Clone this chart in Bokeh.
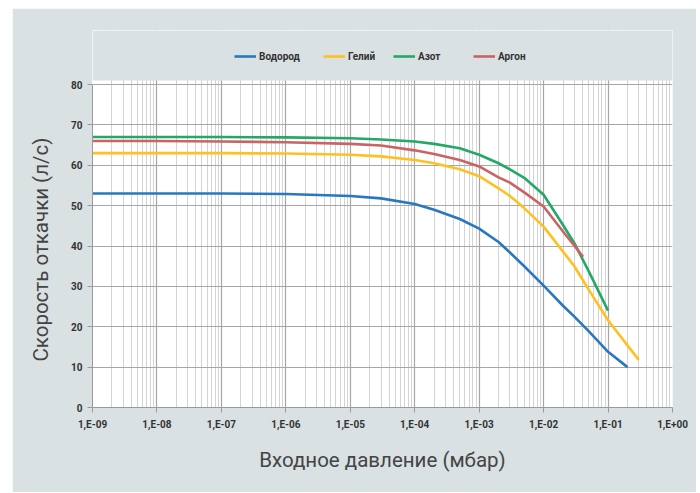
from bokeh.plotting import figure
from bokeh.models import (Range1d, FixedTicker, CustomJSTickFormatter, Legend, LegendItem,
                          BoxAnnotation, Title)
from bokeh.embed import file_html
from bokeh.resources import INLINE

# ---- data (pressure in mbar, pumping speed in l/s) ----
h2_p = [1e-9, 1e-8, 1e-7, 1e-6, 1e-5, 3e-5, 1e-4, 2e-4, 5e-4, 1e-3, 2e-3, 3e-3, 5e-3, 1e-2, 2e-2, 3e-2, 5e-2, 1e-1, 2e-1]
h2_v = [53.0, 53.0, 53.0, 52.9, 52.4, 51.8, 50.4, 49.0, 46.7, 44.3, 41.0, 38.4, 35.0, 30.2, 25.2, 22.5, 18.9, 13.8, 10.0]

he_p = [1e-9, 1e-8, 1e-7, 1e-6, 1e-5, 3e-5, 1e-4, 2e-4, 5e-4, 1e-3, 2e-3, 3e-3, 5e-3, 1e-2, 2e-2, 3e-2, 5e-2, 1e-1, 2e-1, 3e-1]
he_v = [63.0, 63.0, 63.0, 62.9, 62.6, 62.2, 61.3, 60.5, 59.0, 57.3, 54.3, 52.4, 49.4, 44.8, 38.6, 35.0, 29.2, 21.6, 15.4, 11.8]

n2_p = [1e-9, 1e-8, 1e-7, 1e-6, 1e-5, 3e-5, 1e-4, 2e-4, 5e-4, 1e-3, 2e-3, 3e-3, 5e-3, 1e-2, 2e-2, 3e-2, 5e-2, 1e-1]
n2_v = [67.0, 67.0, 67.0, 66.9, 66.7, 66.4, 65.9, 65.3, 64.2, 62.6, 60.5, 59.0, 56.9, 52.7, 45.2, 40.7, 33.8, 24.0]

ar_p = [1e-9, 1e-8, 1e-7, 1e-6, 1e-5, 3e-5, 1e-4, 2e-4, 5e-4, 1e-3, 2e-3, 3e-3, 5e-3, 1e-2, 2e-2, 3e-2, 4.1e-2]
ar_v = [66.0, 66.0, 65.9, 65.7, 65.3, 64.9, 63.7, 62.8, 61.3, 59.7, 57.0, 55.7, 53.3, 49.8, 43.6, 40.1, 37.3]

series_names = ["Водород", "Гелий", "Азот", "Аргон"]
series_colors = ["#2878c0", "#ffc020", "#24a865", "#c86464"]

y_ticks = [0, 10, 20, 30, 40, 50, 60, 70, 80]
x_decades = [1e-9, 1e-8, 1e-7, 1e-6, 1e-5, 1e-4, 1e-3, 1e-2, 1e-1, 1e0]

x_title = "Входное давление (мбар)"
y_title = "Скорость откачки (л/с)"

BG = "#d9e1e3"
FONT_NARROW = "'Liberation Sans Narrow', 'Roboto', sans-serif"
LABEL_SIZE = "20.5px"

# plot area: white part 327 px tall for 0..81; frame extended upward to host the legend
WHITE_TOP = 81
FRAME_H = 377
Y_END = WHITE_TOP * FRAME_H / 327.0
X_START, X_END = x_decades[0], x_decades[-1]

p = figure(x_axis_type="log", output_backend="svg", toolbar_location=None,
           frame_width=580, frame_height=FRAME_H,
           x_range=Range1d(X_START, X_END), y_range=Range1d(0, Y_END),
           min_border_left=79, min_border_right=24, min_border_top=22, min_border_bottom=85,
           background_fill_color="white", border_fill_color=BG,
           outline_line_color=None)
p.margin = (8, 0, 0, 12)

minor = [m * d for d in x_decades[:-1] for m in range(2, 10)]
p.xaxis.ticker = FixedTicker(ticks=x_decades, minor_ticks=minor)
p.yaxis.ticker = FixedTicker(ticks=y_ticks)
p.yaxis.bounds = (0, 80)
p.xaxis.formatter = CustomJSTickFormatter(code="""
const e = Math.round(Math.log10(tick));
const s = (e < 0 ? '-' : '+') + String(Math.abs(e)).padStart(2, '0');
return '1,E' + s;
""")

for ax in (p.xaxis[0], p.yaxis[0]):
    ax.axis_line_color = "#9a9a9a"
    ax.major_tick_line_color = "#9a9a9a"
    ax.minor_tick_line_color = None
    ax.major_tick_in = 0
    ax.major_tick_out = 5
    ax.major_label_text_font = FONT_NARROW
    ax.major_label_text_font_style = "bold"
    ax.major_label_text_font_size = "10px"
    ax.major_label_text_color = "#333333"
    ax.axis_label_text_font = "Roboto"
    ax.axis_label_text_font_style = "normal"
    ax.axis_label_text_font_size = LABEL_SIZE
    ax.axis_label_text_color = "#444444"

p.xaxis.major_label_standoff = 6
p.yaxis.major_label_standoff = 5
p.xaxis.axis_label = x_title
p.xaxis.axis_label_standoff = 15

# y title as a side title so it can be centred on the white plotting area
p.add_layout(Title(text=y_title, align="left", offset=46, vertical_align="middle", standoff=30,
                   text_font="Roboto", text_font_style="normal", text_font_size=LABEL_SIZE,
                   text_color="#444444"), "left")

p.xgrid.grid_line_color = "#a6a6a6"
p.xgrid.minor_grid_line_color = "#d4d4d4"
p.ygrid.grid_line_color = "#a6a6a6"
p.xgrid.grid_line_width = 1.2
p.ygrid.grid_line_width = 1.2

# grey band above the white plotting area (hosts the legend)
p.add_layout(BoxAnnotation(bottom=WHITE_TOP, top=Y_END, left=X_START, right=X_END,
                           fill_color=BG, fill_alpha=1.0, line_color=None, line_alpha=0))

rends = []
for xs, ys, c in [(h2_p, h2_v, series_colors[0]), (he_p, he_v, series_colors[1]),
                  (n2_p, n2_v, series_colors[2]), (ar_p, ar_v, series_colors[3])]:
    r = p.line(xs, ys, line_color=c, line_width=2.6, line_join="round")
    rends.append(r)

legend_x = [142, 231, 301, 381]
for name, r, lx in zip(series_names, rends, legend_x):
    lg = Legend(items=[LegendItem(label=name, renderers=[r])], location=(lx, 345),
                orientation="horizontal", padding=0, margin=0, spacing=0,
                glyph_width=22, glyph_height=12, label_height=12, label_width=10, label_standoff=3,
                border_line_color=None, background_fill_alpha=0,
                label_text_font=FONT_NARROW, label_text_font_style="bold",
                label_text_font_size="10px", label_text_color="#333333")
    p.add_layout(lg)

open("out.html", "w").write(file_html(p, INLINE))
